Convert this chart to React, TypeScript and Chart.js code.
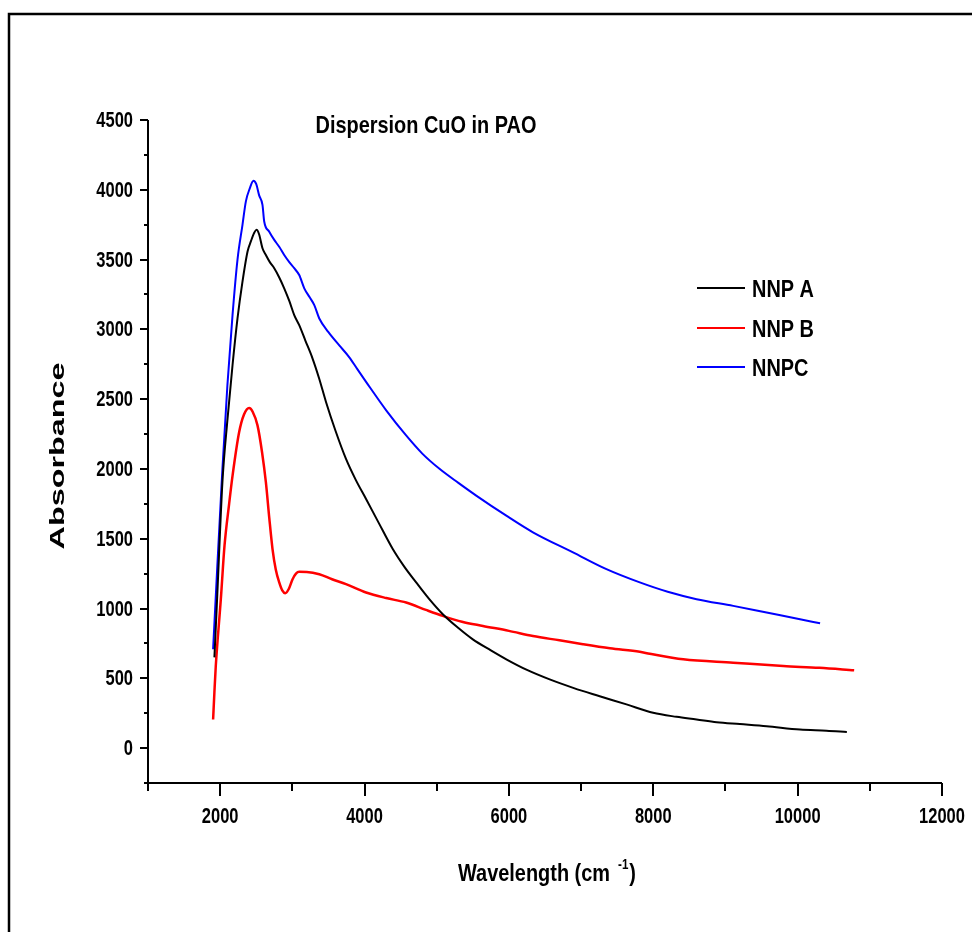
import React, { useEffect, useRef } from "react";
import { Chart, registerables } from "chart.js";

Chart.register(...registerables);

// ---- data ----
const nnpAX = [1920, 1960, 2031, 2100, 2171, 2240, 2309, 2380, 2425, 2470, 2503, 2540, 2586, 2633, 2690, 2749, 2820, 2887, 2960, 3026, 3095, 3180, 3280, 3370, 3466, 3600, 3743, 3880, 4021, 4200, 4391, 4550, 4715, 4900, 5084, 5300, 5500, 5750, 5964, 6250, 6565, 6900, 7258, 7629, 7998, 8323, 8600, 8878, 9200, 9570, 10033, 10400, 10682];
const nnpAY = [650, 1100, 1905, 2350, 2743, 3078, 3342, 3560, 3630, 3690, 3713, 3680, 3581, 3533, 3480, 3438, 3370, 3294, 3200, 3102, 3030, 2920, 2791, 2650, 2480, 2270, 2072, 1920, 1785, 1610, 1426, 1300, 1187, 1065, 959, 860, 779, 700, 636, 560, 492, 430, 372, 313, 253, 224, 205, 185, 172, 157, 133, 125, 116];

const nnpBX = [1902, 1920, 1939, 2009, 2060, 2124, 2171, 2263, 2330, 2402, 2450, 2517, 2580, 2633, 2680, 2725, 2770, 2818, 2860, 2901, 2950, 3003, 3050, 3095, 3200, 3373, 3550, 3743, 4021, 4300, 4576, 4850, 5084, 5350, 5640, 6000, 6333, 6700, 7026, 7400, 7813, 7952, 8415, 9108, 9802, 10300, 10783];
const nnpBY = [205, 400, 588, 1067, 1450, 1750, 1950, 2264, 2390, 2437, 2410, 2312, 2120, 1905, 1650, 1426, 1280, 1187, 1130, 1110, 1140, 1210, 1250, 1263, 1262, 1246, 1210, 1175, 1115, 1075, 1043, 990, 947, 905, 875, 840, 803, 772, 744, 715, 690, 676, 636, 612, 588, 575, 557];

const nnpCX = [1902, 1960, 2009, 2031, 2100, 2171, 2240, 2309, 2356, 2410, 2461, 2500, 2540, 2586, 2610, 2680, 2749, 2820, 2887, 2960, 3026, 3095, 3165, 3240, 3304, 3373, 3500, 3650, 3789, 3900, 4021, 4300, 4576, 4800, 5038, 5300, 5547, 5964, 6333, 6888, 7351, 7813, 8200, 8600, 9108, 9570, 10033, 10311];
const nnpCY = [708, 1300, 1785, 2000, 2600, 3102, 3500, 3749, 3917, 4010, 4065, 4040, 3960, 3892, 3773, 3700, 3641, 3590, 3533, 3480, 3438, 3389, 3294, 3230, 3174, 3078, 2980, 2885, 2800, 2715, 2624, 2420, 2240, 2110, 2001, 1900, 1809, 1665, 1546, 1402, 1282, 1187, 1120, 1067, 1019, 971, 923, 894];

const seriesNames = ["NNP A", "NNP B", "NNPC"];
const seriesColors = ["#000000", "#ff0000", "#0000ff"];
const chartTitle = "Dispersion CuO in PAO";
const xTitle = "Wavelength (cm";
const xTitleSup = "-1";
const yTitle = "Absorbance";
const xMajorTicks = [2000, 4000, 6000, 8000, 10000, 12000];
const yMajorTicks = [0, 500, 1000, 1500, 2000, 2500, 3000, 3500, 4000, 4500];

const FONT = '"Liberation Sans", Arial, sans-serif';

const pairs = (xs: number[], ys: number[]) => xs.map((x, i) => ({ x, y: ys[i] }));

// draw bold text horizontally condensed (Arial Narrow look)
function narrowText(
  ctx: CanvasRenderingContext2D,
  text: string,
  x: number,
  y: number,
  size: number,
  align: CanvasTextAlign,
  baseline: CanvasTextBaseline,
  squeeze = 0.83
) {
  ctx.save();
  ctx.font = `bold ${size}px ${FONT}`;
  ctx.textAlign = align;
  ctx.textBaseline = baseline;
  ctx.translate(x, y);
  ctx.scale(squeeze, 1);
  ctx.fillText(text, 0, 0);
  ctx.restore();
}
function narrowWidth(ctx: CanvasRenderingContext2D, text: string, size: number, squeeze = 0.83) {
  ctx.save();
  ctx.font = `bold ${size}px ${FONT}`;
  const w = ctx.measureText(text).width * squeeze;
  ctx.restore();
  return w;
}

const decorPlugin = {
  id: "decor",
  afterDraw(chart: any) {
    const ctx = chart.ctx as CanvasRenderingContext2D;
    const xs = chart.scales.x;
    const ys = chart.scales.y;
    const a = chart.chartArea;
    ctx.save();
    ctx.fillStyle = "#000";
    ctx.strokeStyle = "#000";

    // outer frame
    ctx.lineWidth = 2.5;
    ctx.strokeRect(9, 14, 2000, 2000);

    // axes
    ctx.lineWidth = 2;
    ctx.beginPath();
    ctx.moveTo(a.left, a.top);
    ctx.lineTo(a.left, a.bottom);
    ctx.lineTo(a.right, a.bottom);
    ctx.stroke();

    // y ticks (major every 500, minor every 250)
    for (let v = -250; v <= 4500; v += 250) {
      const py = Math.round(ys.getPixelForValue(v));
      const len = v % 500 === 0 ? 8 : 4;
      ctx.beginPath();
      ctx.moveTo(a.left, py);
      ctx.lineTo(a.left - len, py);
      ctx.stroke();
    }
    // x ticks (major every 2000, minor every 1000)
    for (let v = 1000; v <= 12000; v += 1000) {
      const px = Math.round(xs.getPixelForValue(v));
      const len = v % 2000 === 0 ? 13 : 8;
      ctx.beginPath();
      ctx.moveTo(px, a.bottom);
      ctx.lineTo(px, a.bottom + len);
      ctx.stroke();
    }

    // tick labels from the scales
    ys.ticks.forEach((t: any) => {
      narrowText(ctx, String(t.value), a.left - 15, ys.getPixelForValue(t.value) + 1, 22, "right", "middle", 0.75);
    });
    xs.ticks.forEach((t: any) => {
      narrowText(ctx, String(t.value), xs.getPixelForValue(t.value), 817, 22, "center", "middle", 0.75);
    });

    // chart title
    narrowText(ctx, chartTitle, 426, 133, 24, "center", "alphabetic");

    // x title with superscript
    const w1 = narrowWidth(ctx, xTitle, 24);
    const w2 = narrowWidth(ctx, xTitleSup, 14);
    const w3 = narrowWidth(ctx, ")", 24);
    const gap = 8;
    const total = w1 + gap + w2 + 1 + w3;
    let sx = 547 - total / 2;
    narrowText(ctx, xTitle, sx, 881, 24, "left", "alphabetic");
    sx += w1 + gap;
    narrowText(ctx, xTitleSup, sx, 869, 14, "left", "alphabetic");
    sx += w2 + 1;
    narrowText(ctx, ")", sx, 881, 24, "left", "alphabetic");

    // y title (stretched)
    ctx.save();
    ctx.translate(64, 456);
    ctx.rotate(-Math.PI / 2);
    ctx.scale(1.54, 1);
    ctx.font = `bold 21px ${FONT}`;
    ctx.textAlign = "center";
    ctx.textBaseline = "alphabetic";
    ctx.fillText(yTitle, 0, 0);
    ctx.restore();

    // legend
    const legendY = [288, 328, 367];
    for (let i = 0; i < seriesNames.length; i++) {
      ctx.strokeStyle = seriesColors[i];
      ctx.lineWidth = 2;
      ctx.beginPath();
      ctx.moveTo(697, legendY[i]);
      ctx.lineTo(745, legendY[i]);
      ctx.stroke();
      ctx.fillStyle = "#000";
      narrowText(ctx, seriesNames[i], 752, legendY[i] + 9, 24, "left", "alphabetic");
    }
    ctx.restore();
  },
};

export default function App() {
  const ref = useRef<HTMLCanvasElement>(null);
  useEffect(() => {
    if (!ref.current) return;
    const chart = new Chart(ref.current, {
      type: "line",
      data: {
        datasets: [
          { label: seriesNames[0], data: pairs(nnpAX, nnpAY), borderColor: seriesColors[0], borderWidth: 2, pointRadius: 0, cubicInterpolationMode: "monotone", fill: false },
          { label: seriesNames[1], data: pairs(nnpBX, nnpBY), borderColor: seriesColors[1], borderWidth: 2.5, pointRadius: 0, cubicInterpolationMode: "monotone", fill: false },
          { label: seriesNames[2], data: pairs(nnpCX, nnpCY), borderColor: seriesColors[2], borderWidth: 2, pointRadius: 0, cubicInterpolationMode: "monotone", fill: false },
        ],
      },
      options: {
        responsive: false,
        animation: false,
        devicePixelRatio: 1,
        layout: { padding: { left: 0, top: 120, right: 30, bottom: 0 } },
        plugins: { legend: { display: false }, title: { display: false }, tooltip: { enabled: false } },
        scales: {
          x: {
            type: "linear",
            min: 1000,
            max: 12000,
            grid: { display: false, drawTicks: false },
            border: { display: false },
            ticks: { display: false, stepSize: 2000 },
            afterBuildTicks: (s: any) => {
              s.ticks = xMajorTicks.map((v) => ({ value: v }));
            },
            afterFit: (s: any) => {
              s.height = 149;
            },
          },
          y: {
            type: "linear",
            min: -250,
            max: 4500,
            grid: { display: false, drawTicks: false },
            border: { display: false },
            ticks: { display: false, stepSize: 500 },
            afterBuildTicks: (s: any) => {
              s.ticks = yMajorTicks.map((v) => ({ value: v }));
            },
            afterFit: (s: any) => {
              s.width = 148;
            },
          },
        },
      } as any,
      plugins: [decorPlugin],
    });
    return () => chart.destroy();
  }, []);
  return (
    <div style={{ position: "fixed", left: 0, top: 0, width: 972, height: 932, overflow: "hidden", background: "#fff" }}>
      <canvas ref={ref} width={972} height={932} style={{ display: "block", width: 972, height: 932 }} />
    </div>
  );
}
